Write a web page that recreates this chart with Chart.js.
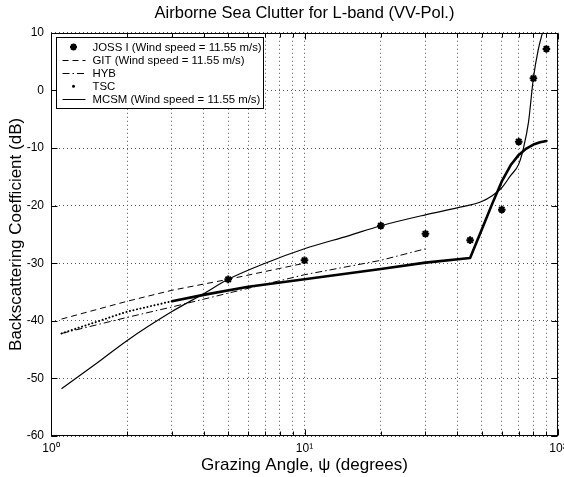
<!DOCTYPE html>
<html>
<head>
<meta charset="utf-8">
<script src="https://cdn.jsdelivr.net/npm/chart.js@4.4.0/dist/chart.umd.min.js"></script>
<style>
  html, body { margin: 0; padding: 0; background: #fff; }
  #chart { display: block; }
</style>
</head>
<body>
<canvas id="chart" width="564" height="477"></canvas>
<script>
// Airborne sea clutter, L-band VV

// JOSS I measured points (grazing angle in degrees, sigma0 in dB)
const jossAngles = [5, 10, 20, 30, 45, 60, 70, 80, 90];
const jossValues = [-32.8, -29.5, -23.5, -24.9, -26.0, -20.7, -8.9, 2.1, 7.2];

// GIT model (valid up to 10 deg)
const gitAngles = [1.1, 2, 3, 5, 8, 10];
const gitValues = [-39.7, -36.6, -34.7, -32.8, -30.9, -30.0];

// HYB model (up to 30 deg)
const hybAngles = [1.1, 2, 3, 5, 10, 20, 30];
const hybValues = [-42.2, -39.4, -37.6, -35.2, -32.0, -29.5, -27.5];

// TSC model
const tscAngles = [1.1, 2, 3, 4, 6, 10, 20, 30, 45, 50, 55, 60, 65, 70, 75, 80, 85, 90];
const tscValues = [-42.2, -38.4, -36.6, -35.5, -34.1, -32.8, -31.0, -29.9, -29.1, -24.2, -19.7, -15.8, -13.0, -11.2, -10.1, -9.4, -9.0, -8.8];

// MCSM model
const mcsmAngles = [1.1, 1.5, 2, 3, 4, 5, 7, 10, 15, 20, 30, 40, 50, 55, 60, 65, 70, 73, 76.5, 80, 83.5, 87.4];
const mcsmValues = [-51.8, -47.5, -43.4, -38.4, -35.3, -32.8, -30.0, -27.5, -25.2, -23.5, -21.6, -20.4, -19.3, -18.3, -16.9, -14.8, -12.8, -10.1, -5.5, 2.2, 7.0, 10.5];

// axis ticks
const xTicks = [1, 2, 3, 4, 5, 6, 7, 8, 9, 10, 20, 30, 40, 50, 60, 70, 80, 90, 100];
const xTickLabels = { 1: '10⁰', 10: '10¹', 100: '10²' };
const yTicks = [-60, -50, -40, -30, -20, -10, 0, 10];

const FONT = "'Liberation Sans', Arial, Helvetica, sans-serif";

function toXY(xs, ys) {
    return xs.map((x, i) => ({ x: x, y: ys[i] }));
}

// box around the plot + inward tick marks (matlab style)
const frameTicks = {
    id: 'frameTicks',
    afterDatasetsDraw(chart) {
        const { ctx, chartArea: a, scales } = chart;
        const L = Math.round(a.left) + 0.5, R = Math.round(a.right) - 0.5;
        const T = Math.round(a.top) + 0.5, B = Math.round(a.bottom) - 0.5;
        ctx.save();
        ctx.strokeStyle = '#000';
        ctx.lineWidth = 1;
        ctx.setLineDash([]);
        ctx.strokeRect(L, T, R - L, B - T);
        ctx.beginPath();
        xTicks.forEach(v => {
            const px = Math.round(scales.x.getPixelForValue(v)) + 0.5;
            const len = xTickLabels[v] ? 6 : 4;
            ctx.moveTo(px, B); ctx.lineTo(px, B - len);
            ctx.moveTo(px, T); ctx.lineTo(px, T + len);
        });
        yTicks.forEach(v => {
            const py = Math.round(scales.y.getPixelForValue(v)) + 0.5;
            ctx.moveTo(L, py); ctx.lineTo(L + 6, py);
            ctx.moveTo(R, py); ctx.lineTo(R - 6, py);
        });
        ctx.stroke();
        ctx.restore();
    }
};

// legend box in the upper left corner of the plot
const boxLegend = {
    id: 'boxLegend',
    afterDraw(chart) {
        const { ctx, chartArea } = chart;
        const sets = chart.data.datasets;
        const x0 = Math.round(chartArea.left) + 5.5;
        const y0 = Math.round(chartArea.top) + 4.5;
        const rowH = 13.1;
        ctx.save();
        ctx.font = '11.4px ' + FONT;
        const textW = Math.max(...sets.map(d => ctx.measureText(d.label).width));
        const textX = x0 + 36;
        const w = Math.round(textX - x0 + textW + 2);
        const h = Math.round(rowH * sets.length + 5);
        ctx.fillStyle = '#fff';
        ctx.fillRect(x0, y0, w, h);
        ctx.strokeStyle = '#000';
        ctx.lineWidth = 1;
        ctx.strokeRect(x0, y0, w, h);

        sets.forEach((d, i) => {
            const cy = y0 + 9.5 + i * rowH;
            const cx = x0 + 17;
            ctx.strokeStyle = '#000';
            ctx.fillStyle = '#000';
            if (d.legendKind === 'star') {
                ctx.lineWidth = 2;
                ctx.setLineDash([]);
                Chart.helpers.drawPoint(ctx, { pointStyle: 'star', radius: 3.5, borderWidth: 2 }, cx, cy);
            } else if (d.legendKind === 'dot') {
                ctx.beginPath();
                ctx.arc(cx, cy, 1.5, 0, Math.PI * 2);
                ctx.fill();
            } else {
                ctx.lineWidth = 1;
                ctx.setLineDash(d.borderDash || []);
                ctx.beginPath();
                ctx.moveTo(x0 + 6, Math.round(cy) + 0.5);
                ctx.lineTo(x0 + 29, Math.round(cy) + 0.5);
                ctx.stroke();
            }
            ctx.setLineDash([]);
            ctx.textBaseline = 'middle';
            ctx.textAlign = 'left';
            ctx.fillText(d.label, textX, cy + 0.5);
        });
        ctx.restore();
    }
};

const chart = new Chart(document.getElementById('chart'), {
    type: 'scatter',
    data: {
        datasets: [
            {
                label: 'JOSS I (Wind speed = 11.55 m/s)',
                legendKind: 'star',
                data: toXY(jossAngles, jossValues),
                showLine: false,
                pointStyle: 'star',
                pointRadius: 3.8,
                pointBorderWidth: 2,
                borderColor: '#000',
                backgroundColor: '#000'
            },
            {
                label: 'GIT (Wind speed = 11.55 m/s)',
                data: toXY(gitAngles, gitValues),
                showLine: true,
                pointRadius: 0,
                borderWidth: 1,
                borderDash: [6, 4],
                borderColor: '#000'
            },
            {
                label: 'HYB',
                data: toXY(hybAngles, hybValues),
                showLine: true,
                pointRadius: 0,
                borderWidth: 1,
                borderDash: [7, 3, 1.5, 3],
                borderColor: '#000'
            },
            {
                label: 'TSC',
                legendKind: 'dot',
                data: toXY(tscAngles, tscValues),
                showLine: true,
                pointRadius: 0,
                borderWidth: 2.6,
                borderCapStyle: 'round',
                borderJoinStyle: 'round',
                borderColor: '#000',
                // sparse '.' markers at the low angle end
                segment: {
                    borderDash: c => c.p1.parsed.x <= 3 ? [0.1, 3.5] : undefined,
                    borderWidth: c => c.p1.parsed.x <= 3 ? 2 : undefined
                }
            },
            {
                label: 'MCSM (Wind speed = 11.55 m/s)',
                data: toXY(mcsmAngles, mcsmValues),
                showLine: true,
                pointRadius: 0,
                borderWidth: 1.2,
                cubicInterpolationMode: 'monotone',
                borderColor: '#000'
            }
        ]
    },
    options: {
        responsive: false,
        animation: false,
        devicePixelRatio: 1,
        layout: { padding: { left: 0, right: 6, top: 0, bottom: 0 } },
        plugins: {
            legend: { display: false },
            tooltip: { enabled: false },
            title: {
                display: true,
                fullSize: false, // centre over the plot area, like matlab
                text: 'Airborne Sea Clutter for L-band (VV-Pol.)',
                color: '#000',
                font: { family: FONT, size: 16.5, weight: 'normal' },
                padding: { top: 4, bottom: 9 }
            }
        },
        scales: {
            x: {
                type: 'logarithmic',
                position: 'bottom',
                min: 1,
                max: 100,
                afterBuildTicks: s => { s.ticks = xTicks.map(v => ({ value: v })); },
                afterFit: s => { s.height = 41; s.paddingLeft = 0; s.paddingRight = 0; },
                ticks: {
                    autoSkip: false,
                    maxRotation: 0,
                    padding: 5,
                    color: '#000',
                    font: { family: FONT, size: 12 },
                    callback: v => xTickLabels[v] || ''
                },
                grid: { color: '#555', lineWidth: 1, drawTicks: false },
                border: { display: false, dash: [1, 3] },
                title: {
                    display: true,
                    text: 'Grazing Angle, ψ (degrees)',
                    color: '#000',
                    font: { family: FONT, size: 17 },
                    padding: { top: 0, bottom: 1 }
                }
            },
            y: {
                min: -60,
                max: 10,
                afterBuildTicks: s => { s.ticks = yTicks.map(v => ({ value: v })); },
                afterFit: s => { s.width = 51; s.paddingTop = 0; s.paddingBottom = 0; },
                ticks: {
                    padding: 7,
                    color: '#000',
                    font: { family: FONT, size: 12 }
                },
                grid: { color: '#555', lineWidth: 1, drawTicks: false },
                border: { display: false, dash: [1, 3] },
                title: {
                    display: true,
                    text: 'Backscattering Coefficient (dB)',
                    color: '#000',
                    font: { family: FONT, size: 17 },
                    padding: { top: 6, bottom: 0 }
                }
            }
        }
    },
    plugins: [frameTicks, boxLegend]
});
</script>
</body>
</html>
